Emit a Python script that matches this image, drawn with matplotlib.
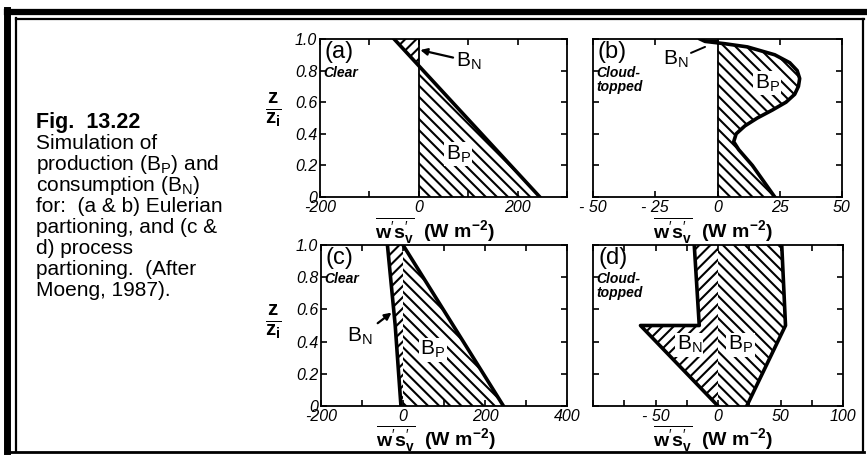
import numpy as np
import matplotlib
matplotlib.use("Agg")
import matplotlib.pyplot as plt
from matplotlib.lines import Line2D

plt.rcParams['font.family'] = ['Liberation Sans', 'DejaVu Sans']
plt.rcParams['mathtext.fontset'] = 'custom'
plt.rcParams['mathtext.rm'] = 'Liberation Sans'
plt.rcParams['mathtext.it'] = 'Liberation Sans:italic'
plt.rcParams['mathtext.bf'] = 'Liberation Sans:bold'
plt.rcParams['hatch.linewidth'] = 1.5

# ── data ──────────────────────────────────────────────────────────────────────
# (a) clear, Eulerian partitioning: one straight buoyancy-flux profile
z_a = [0.0, 1.0]
flux_a = [245, -50]

# (b) cloud-topped, Eulerian partitioning
z_b = [0.0, 0.1, 0.2, 0.3, 0.35, 0.4, 0.45, 0.5, 0.55, 0.6, 0.65, 0.7,
       0.75, 0.8, 0.85, 0.9, 0.95, 0.97, 0.985, 1.0]
flux_b = [23, 18.5, 14, 8.5, 6.5, 7.5, 11, 16, 22, 27.5, 31, 32.5,
          33, 32, 29, 23, 12, 3, -5, -7]

# (c) clear, process partitioning
z_c_neg = [0.0, 0.5, 1.0]
flux_c_neg = [-5, -19, -38]
z_c_pos = [0.0, 1.0]
flux_c_pos = [245, 0]

# (d) cloud-topped, process partitioning (polygon outlines)
z_d_neg = [0.0, 0.5, 0.5, 1.0, 1.0]
flux_d_neg = [0, -62, -15, -19, 0]
z_d_pos = [0.0, 0.0, 0.5, 1.0, 1.0]
flux_d_pos = [0, 23, 54, 51, 0]

panel_tags = ["(a)", "(b)", "(c)", "(d)"]
panel_regimes = ["Clear", "Cloud-\ntopped", "Clear", "Cloud-\ntopped"]
xlims = [(-200, 300), (-50, 50), (-200, 400), (-100, 100)]
xticks = [[-200, -100, 0, 100, 200, 300], [-50, -25, 0, 25, 50],
          [-200, -100, 0, 100, 200, 300, 400], [-100, -75, -50, -25, 0, 25, 50, 75, 100]]
xticklabels = [["-200", "", "0", "", "200", ""], ["- 50", "- 25", "0", "25", "50"],
               ["-200", "", "0", "", "200", "", "400"],
               ["", "", "- 50", "", "0", "", "50", "", "100"]]
yticks = [0, 0.2, 0.4, 0.6, 0.8, 1.0]
yticklabels = ["0", "0.2", "0.4", "0.6", "0.8", "1.0"]

caption_title = "Fig.  13.22"
caption_lines = ["Simulation of", "production (B$_{\\rm P}$) and",
                 "consumption (B$_{\\rm N}$)", "for:  (a & b) Eulerian",
                 "partioning, and (c &", "d) process", "partioning.  (After",
                 "Moeng, 1987)."]

W, H = 867, 457
fig = plt.figure(figsize=(W / 100, H / 100), dpi=100)


def fpx(x0, y0, x1, y1):
    return [x0 / W, 1 - y1 / H, (x1 - x0) / W, (y1 - y0) / H]


axes = [fig.add_axes(fpx(320, 39, 567, 197)), fig.add_axes(fpx(593, 39, 842, 197)),
        fig.add_axes(fpx(321, 245, 567, 406)), fig.add_axes(fpx(593, 245, 843, 406))]

HP = "\\\\\\"   # production hatch
HN = "///"      # consumption hatch
LBL = 15        # size of the B_P / B_N labels

for i, ax in enumerate(axes):
    ax.set_xlim(*xlims[i])
    ax.set_ylim(0, 1)
    ax.set_xticks(xticks[i])
    ax.set_xticklabels(xticklabels[i], fontstyle="italic", fontsize=11.5)
    ax.set_yticks(yticks)
    if i in (0, 2):
        ax.set_yticklabels(yticklabels, fontstyle="italic", fontsize=11.5)
    else:
        ax.set_yticklabels([])
    ax.tick_params(direction="in", length=4, width=1.2, top=True, right=True, pad=2)
    for s in ax.spines.values():
        s.set_linewidth(1.3)
    ax.text(0.02, 0.99, panel_tags[i], transform=ax.transAxes, fontsize=17,
            va="top", ha="left")
    ax.text(0.015, 0.83, panel_regimes[i], transform=ax.transAxes, fontsize=10,
            fontweight="bold", fontstyle="italic", va="top", ha="left", linespacing=1.0)

# (a)
ax = axes[0]
za, fa = np.array(z_a), np.array(flux_a)
ax.fill_betweenx(za, 0, fa, where=fa >= 0, interpolate=True, hatch=HP,
                 facecolor="white", edgecolor="black", linewidth=0)
ax.fill_betweenx(za, 0, fa, where=fa <= 0, interpolate=True, hatch=HN,
                 facecolor="white", edgecolor="black", linewidth=0)
ax.plot(fa, za, color="black", lw=2.6)
ax.axvline(0, color="black", lw=1.3)
ax.annotate("B$_{\\rm N}$", xy=(3, 0.93), xytext=(75, 0.86), fontsize=LBL,
            va="center", arrowprops=dict(arrowstyle="-|>", color="black", lw=1.6,
                                         mutation_scale=10, shrinkA=0, shrinkB=0))
ax.text(80, 0.27, "B$_{\\rm P}$", fontsize=LBL, ha="center", va="center",
        bbox=dict(facecolor="white", edgecolor="none", pad=1))

# (b)
ax = axes[1]
zb, fb = np.array(z_b), np.array(flux_b)
ax.fill_betweenx(zb, 0, fb, where=fb >= 0, interpolate=True, hatch=HP,
                 facecolor="white", edgecolor="black", linewidth=0)
ax.fill_betweenx(zb, 0, fb, where=fb <= 0, interpolate=True,
                 facecolor="black", edgecolor="black", linewidth=0)
ax.plot(fb, zb, color="black", lw=2.6)
ax.axvline(0, color="black", lw=1.3)
ax.annotate("B$_{\\rm N}$", xy=(-5, 0.95), xytext=(-22, 0.87), fontsize=LBL,
            va="center", arrowprops=dict(arrowstyle="-", color="black", lw=1.4,
                                         shrinkA=0, shrinkB=0))
ax.text(20, 0.72, "B$_{\\rm P}$", fontsize=LBL, ha="center", va="center",
        bbox=dict(facecolor="white", edgecolor="none", pad=1))

# (c)
ax = axes[2]
zcn, fcn = np.array(z_c_neg), np.array(flux_c_neg)
zcp, fcp = np.array(z_c_pos), np.array(flux_c_pos)
ax.fill_betweenx(zcn, fcn, 0, hatch=HN, facecolor="white", edgecolor="black", linewidth=0)
ax.fill_betweenx(zcp, 0, fcp, hatch=HP, facecolor="white", edgecolor="black", linewidth=0)
ax.plot(fcn, zcn, color="black", lw=2.6)
ax.plot(fcp, zcp, color="black", lw=2.6)
ax.annotate("B$_{\\rm N}$", xy=(-28, 0.58), xytext=(-105, 0.43), fontsize=LBL,
            ha="center", va="center",
            arrowprops=dict(arrowstyle="-|>", color="black", lw=1.6,
                            mutation_scale=10, shrinkA=2, shrinkB=0))
ax.text(72, 0.35, "B$_{\\rm P}$", fontsize=LBL, ha="center", va="center",
        bbox=dict(facecolor="white", edgecolor="none", pad=1))

# (d)
ax = axes[3]
ax.fill(flux_d_neg, z_d_neg, hatch=HN, facecolor="white", edgecolor="black", linewidth=0)
ax.fill(flux_d_pos, z_d_pos, hatch=HP, facecolor="white", edgecolor="black", linewidth=0)
ax.plot(flux_d_neg[:4], z_d_neg[:4], color="black", lw=2.6)
ax.plot(flux_d_pos[1:4], z_d_pos[1:4], color="black", lw=2.6)
ax.text(-23, 0.38, "B$_{\\rm N}$", fontsize=LBL, ha="center", va="center",
        bbox=dict(facecolor="white", edgecolor="none", pad=1))
ax.text(18, 0.38, "B$_{\\rm P}$", fontsize=LBL, ha="center", va="center",
        bbox=dict(facecolor="white", edgecolor="none", pad=1))

# axis labels
xlab = r"$\overline{\mathbf{w}^{\prime}\mathbf{s}_{\mathbf{v}}^{\prime}}$  (W m$^{\mathbf{-2}}$)"
for (xc, yc) in [(435, 231), (713, 231), (436, 439), (713, 439)]:
    fig.text(xc / W, 1 - yc / H, xlab, fontsize=14, fontweight="bold",
             ha="center", va="center")
ylab = r"$\frac{\mathbf{z}}{\mathbf{z}_{\mathbf{i}}}$"
for yc in (110, 322):
    fig.text(273 / W, 1 - yc / H, ylab, fontsize=21, ha="center", va="center")

# caption, one line at a time
fig.text(36 / W, 1 - 128 / H, caption_title, fontsize=15.5, fontweight="bold",
         ha="left", va="baseline")
for k, line in enumerate(caption_lines):
    fig.text(36 / W, 1 - (149 + 21 * k) / H, line, fontsize=15,
             ha="left", va="baseline")

# page frame
lines = [((7 / W, 7 / W), (6 / H, 1 - 10 / H), 5.0),
         ((16 / W, 16 / W), (6 / H, 1 - 18 / H), 1.6),
         ((7 / W, 864 / W), (1 - 12 / H, 1 - 12 / H), 4.5),
         ((16 / W, 864 / W), (1 - 19 / H, 1 - 19 / H), 1.6),
         ((863 / W, 863 / W), (6 / H, 1 - 19 / H), 1.6),
         ((7 / W, 864 / W), (1 - 452 / H, 1 - 452 / H), 2.0)]
for xs, ys, lw in lines:
    fig.add_artist(Line2D(xs, ys, color="black", lw=lw))

fig.savefig("out.png", dpi=100)
